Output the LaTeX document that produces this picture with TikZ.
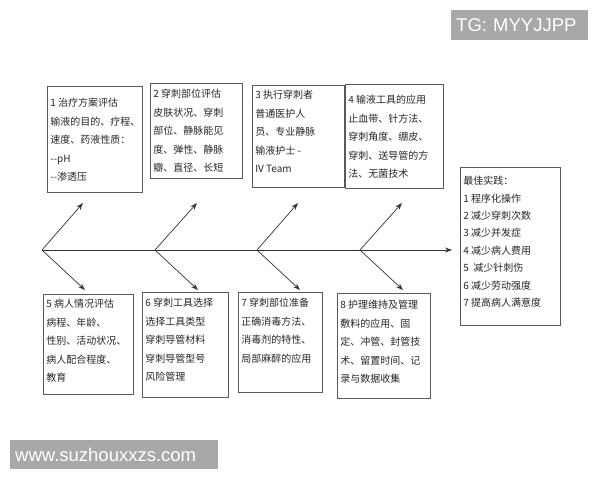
\documentclass[tikz,border=0pt]{standalone}
\usepackage{fontspec}
\newfontfamily\cjk{Noto Sans CJK SC}
\newfontfamily\wmfont{Liberation Sans}
\usepackage{tikz}
\usetikzlibrary{arrows.meta,positioning}
\tikzset{
    %Define standard arrow tip
    >={Stealth[length=7pt,width=5pt]},
    %Define style for boxes
    cause/.style={
           rectangle,
           draw=black!65, line width=0.6pt,
           anchor=north west,
           inner xsep=3pt, inner ysep=0pt,
           font=\cjk\fontsize{10}{18.5}\selectfont,
           text=black!85},
    result/.style={
           cause,
           font=\cjk\fontsize{10}{17.4}\selectfont},
    mark box/.style={
           rectangle,
           fill=black!34,
           anchor=north west,
           inner xsep=5pt, inner ysep=0pt,
           align=left,
           font=\wmfont\fontsize{18.5}{20}\selectfont,
           text=white},
    % Define arrow style
    bone/.style={
           ->,
           line width=0.7pt,
           draw=black!80}
}
\newcommand{\boxtxt}[4]{\parbox[c][#2pt][t]{#1pt}{\raggedright\vspace*{#3pt}#4}}

\begin{document}
\begin{tikzpicture}[x=1pt,y=-1pt]
\useasboundingbox (0,0) rectangle (600,480);
 %boxes above
\node[cause](c1) at (47,86){\boxtxt{89}{106}{12}{1 治疗方案评估\\输液的目的、疗程、\\速度、药液性质：\\-{}-pH\\-{}-渗透压}};
\node[cause](c2) at (150,83){\boxtxt{86}{95}{6}{2 穿刺部位评估\\皮肤状况、穿刺\\部位、静脉能见\\度、弹性、静脉\\瓣、直径、长短}};
\node[cause](c3) at (252,85){\boxtxt{86}{102}{5}{3 执行穿刺者\\普通医护人\\员、专业静脉\\输液护士 -\\IV Team}};
\node[cause](c4) at (345,84){\boxtxt{92}{104}{11}{4 输液工具的应用\\止血带、针方法、\\穿刺角度、绷皮、\\穿刺、送导管的方\\法、无菌技术}};
 %boxes below
\node[cause](c5) at (43,294){\boxtxt{84}{100}{5}{5 病人情况评估\\病程、年龄、\\性别、活动状况、\\病人配合程度、\\教育}};
\node[cause](c6) at (142,292){\boxtxt{80}{105}{6}{6 穿刺工具选择\\选择工具类型\\穿刺导管材料\\穿刺导管型号\\风险管理}};
\node[cause](c7) at (238,292){\boxtxt{78}{100}{6}{7 穿刺部位准备\\正确消毒方法、\\消毒剂的特性、\\局部麻醉的应用}};
\node[cause](c8) at (337,293){\boxtxt{87}{105}{7}{8 护理维持及管理\\敷料的应用、固\\定、冲管、封管技\\术、留置时间、记\\录与数据收集}};
 %outcome
\node[result](best) at (460,167){\boxtxt{94}{158}{9}{最佳实践：\\1 程序化操作\\2 减少穿刺次数\\3 减少并发症\\4 减少病人费用\\5~ 减少针刺伤\\6 减少劳动强度\\7 提高病人满意度}};
 %spine
\coordinate (s1) at (42,250);
\coordinate (s2) at (155,250);
\coordinate (s3) at (257,250);
\coordinate (s4) at (360,250);
\coordinate (head) at (452,250);
\coordinate (u1) at (83,203);
\coordinate (u2) at (197,203);
\coordinate (u3) at (298,203);
\coordinate (u4) at (402,203);
\coordinate (d1) at (85,290);
\coordinate (d2) at (198,290);
\coordinate (d3) at (300,290);
\coordinate (d4) at (403,290);
\draw[bone] (s1) -- (head);
\foreach \i in {1,...,4}{
  \draw[bone] (s\i) -- (u\i);
  \draw[bone] (s\i) -- (d\i);
}
 %marks
\node[mark box, text width=127pt, minimum height=30pt](tg) at (451,10){TG: MYYJJPP};
\node[mark box, text width=198pt, minimum height=29pt](site) at (10,440){www.suzhouxxzs.com};
\end{tikzpicture}
\end{document}
